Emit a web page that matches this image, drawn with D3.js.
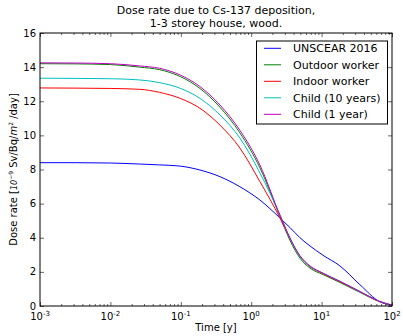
<!DOCTYPE html>
<html lang="en">
<head>
<meta charset="UTF-8">
<title>Dose rate</title>
<style>
  body { margin: 0; background: #fff; }
  text { font-family: "DejaVu Sans", sans-serif; fill: #000; }
</style>
</head>
<body>
<div id="chart"></div>
<script src="https://d3js.org/d3.v7.min.js"></script>
<script>
// time in years
var times = [0.001, 0.00316, 0.01, 0.026, 0.05, 0.098, 0.187, 0.36, 0.69, 1.33, 2.56, 3.55, 4.93, 6.84, 10.5, 18.2, 35, 67, 100];

var seriesNames = ["UNSCEAR 2016", "Outdoor worker", "Indoor worker", "Child (10 years)", "Child (1 year)"];
var seriesColors = ["#0000ff", "#008000", "#ff0000", "#00bfbf", "#bf00bf"];

var unscear = [8.4, 8.4, 8.38, 8.32, 8.27, 8.2, 7.97, 7.58, 6.99, 6.21, 5.16, 4.6, 4.0, 3.52, 2.97, 2.35, 1.25, 0.25, 0.05];
var outdoor = [14.2, 14.19, 14.15, 14.0, 13.85, 13.45, 12.75, 11.65, 10.15, 8.1, 5.25, 3.85, 2.8, 2.22, 1.84, 1.38, 0.8, 0.25, 0.04];
var indoor  = [12.78, 12.77, 12.75, 12.7, 12.52, 12.17, 11.59, 10.6, 9.26, 7.29, 5.16, 3.95, 2.9, 2.3, 1.9, 1.42, 0.84, 0.26, 0.05];
var child10 = [13.35, 13.34, 13.32, 13.25, 13.09, 12.76, 12.17, 11.2, 9.85, 7.8, 5.33, 3.97, 2.9, 2.32, 1.92, 1.45, 0.85, 0.27, 0.05];
var child1  = [14.25, 14.24, 14.2, 14.07, 13.93, 13.54, 12.86, 11.78, 10.3, 8.26, 5.33, 4.0, 2.95, 2.35, 1.92, 1.45, 0.85, 0.27, 0.05];

var seriesValues = [unscear, outdoor, indoor, child10, child1];

var yTicks = [0, 2, 4, 6, 8, 10, 12, 14, 16];
var xTicks = [1e-3, 1e-2, 1e-1, 1e0, 1e1, 1e2];
var xExps = ["-3", "-2", "-1", "0", "1", "2"];

var W = 403, H = 336;
var m = {left: 40, right: 392, top: 33, bottom: 306};

var svg = d3.select("#chart").append("svg")
  .attr("width", W).attr("height", H);

var x = d3.scaleLog().domain([1e-3, 100]).range([m.left, m.right]);
var y = d3.scaleLinear().domain([0, 16]).range([m.bottom, m.top]);

// clip
svg.append("clipPath").attr("id", "clip")
  .append("rect").attr("x", m.left).attr("y", m.top)
  .attr("width", m.right - m.left).attr("height", m.bottom - m.top);

var line = d3.line()
  .x(function(d) { return x(d[0]); })
  .y(function(d) { return y(d[1]); })
  .curve(d3.curveMonotoneX);

var lines = svg.append("g").attr("clip-path", "url(#clip)");
seriesValues.forEach(function(vals, i) {
  lines.append("path")
    .datum(times.map(function(t, j) { return [t, vals[j]]; }))
    .attr("fill", "none")
    .attr("stroke", seriesColors[i])
    .attr("stroke-width", 1)
    .attr("d", line);
});

// axes, matplotlib classic style: ticks inside on all four sides
var minor = [];
for (var e = -3; e < 2; e++) {
  for (var k = 2; k <= 9; k++) minor.push(k * Math.pow(10, e));
}

var xAxisB = d3.axisBottom(x).tickValues(xTicks).tickSize(-4).tickFormat("");
var xAxisT = d3.axisTop(x).tickValues(xTicks).tickSize(-4).tickFormat("");
var xMinB = d3.axisBottom(x).tickValues(minor).tickSize(-2).tickFormat("");
var xMinT = d3.axisTop(x).tickValues(minor).tickSize(-2).tickFormat("");
var yAxisL = d3.axisLeft(y).tickValues(yTicks).tickSize(-4).tickFormat("");
var yAxisR = d3.axisRight(y).tickValues(yTicks).tickSize(-4).tickFormat("");

[[xAxisB, "translate(0," + m.bottom + ")"], [xMinB, "translate(0," + m.bottom + ")"],
 [xAxisT, "translate(0," + m.top + ")"], [xMinT, "translate(0," + m.top + ")"],
 [yAxisL, "translate(" + m.left + ",0)"], [yAxisR, "translate(" + m.right + ",0)"]].forEach(function(a) {
  var g = svg.append("g").attr("transform", a[1]).call(a[0]);
  g.select(".domain").remove();
  g.selectAll("line").attr("stroke", "#000").attr("stroke-width", 0.6);
});

svg.append("rect")
  .attr("x", m.left).attr("y", m.top)
  .attr("width", m.right - m.left).attr("height", m.bottom - m.top)
  .attr("fill", "none").attr("stroke", "#000").attr("stroke-width", 1);

// tick labels
svg.append("g").selectAll("text").data(yTicks).join("text")
  .attr("x", m.left - 4).attr("y", function(d) { return y(d); })
  .attr("dy", "0.35em").attr("text-anchor", "end")
  .style("font-size", "10px")
  .text(function(d) { return d; });

var xl = svg.append("g").selectAll("text").data(xTicks).join("text")
  .attr("x", function(d) { return x(d); }).attr("y", m.bottom + 14)
  .attr("text-anchor", "middle")
  .style("font-size", "10px");
xl.append("tspan").text("10");
xl.append("tspan").attr("dy", -4).style("font-size", "7px")
  .text(function(d, i) { return xExps[i]; });

// title
svg.append("text").attr("x", (m.left + m.right) / 2).attr("y", 14)
  .attr("text-anchor", "middle").style("font-size", "11px")
  .text("Dose rate due to Cs-137 deposition,");
svg.append("text").attr("x", (m.left + m.right) / 2).attr("y", 27)
  .attr("text-anchor", "middle").style("font-size", "11px")
  .text("1-3 storey house, wood.");

// axis labels
svg.append("text").attr("x", (m.left + m.right) / 2).attr("y", 331)
  .attr("text-anchor", "middle").style("font-size", "10px")
  .text("Time [y]");

var yl = svg.append("text")
  .attr("transform", "translate(17," + ((m.top + m.bottom) / 2) + ") rotate(-90)")
  .attr("text-anchor", "middle").style("font-size", "10px");
yl.append("tspan").text("Dose rate [");
yl.append("tspan").style("font-style", "italic").style("font-size", "8px").text("10");
yl.append("tspan").attr("dy", -4).style("font-size", "6px").text("\u22129");
yl.append("tspan").attr("dy", 4).text(" Sv/Bq/");
yl.append("tspan").style("font-style", "italic").text("m");
yl.append("tspan").attr("dy", -4).style("font-size", "6px").text("2");
yl.append("tspan").attr("dy", 4).text(" /day]");

// legend
var lg = svg.append("g");
lg.append("rect").attr("x", 256.5).attr("y", 41).attr("width", 131).attr("height", 83)
  .attr("fill", "#fff").attr("stroke", "#000").attr("stroke-width", 1);
seriesNames.forEach(function(name, i) {
  var yy = 48.3 + i * 16.5;
  lg.append("line").attr("x1", 264).attr("x2", 281).attr("y1", yy).attr("y2", yy)
    .attr("stroke", seriesColors[i]).attr("stroke-width", 1);
  lg.append("text").attr("x", 293).attr("y", yy).attr("dy", "0.35em")
    .style("font-size", "11px").text(name);
});
</script>
</body>
</html>
